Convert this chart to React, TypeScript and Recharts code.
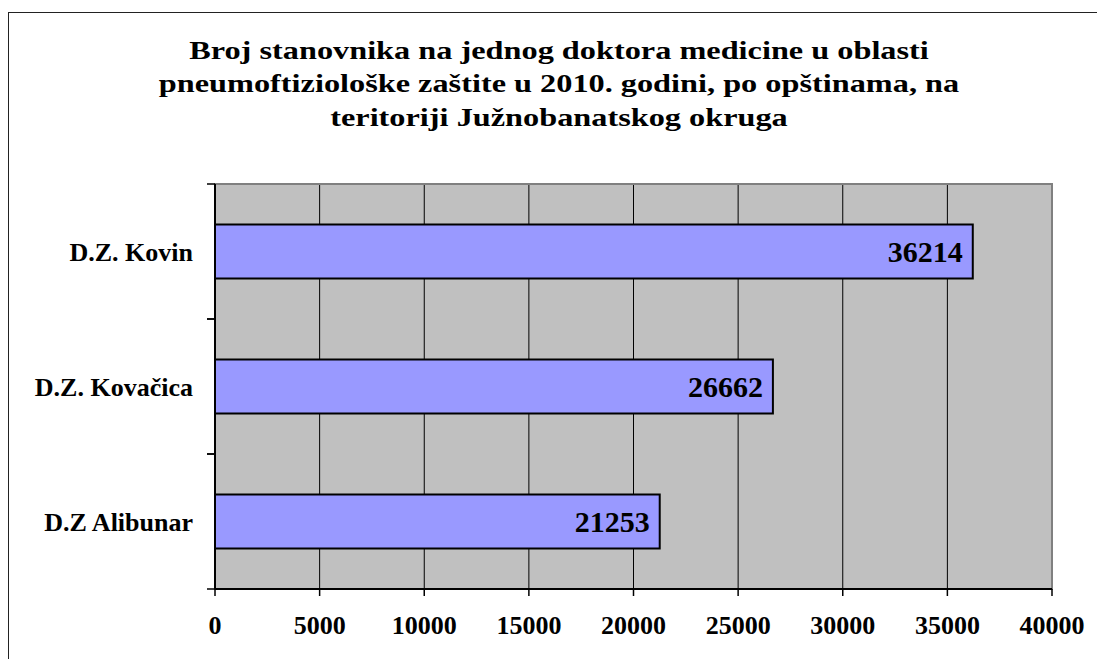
import React from 'react';
import { BarChart, Bar, XAxis, YAxis, CartesianGrid, LabelList, ReferenceArea } from 'recharts';

const categories = ['D.Z. Kovin', 'D.Z. Kovačica', 'D.Z Alibunar'];
const values = [36214, 26662, 21253];
const xTicks = [0, 5000, 10000, 15000, 20000, 25000, 30000, 35000, 40000];
const titleLines = [
  'Broj stanovnika na jednog doktora medicine u oblasti',
  'pneumoftiziološke zaštite u 2010. godini, po opštinama, na',
  'teritoriji Južnobanatskog okruga',
];

const data = categories.map((name, i) => ({ name, value: values[i] }));

const W = 1097;
const H = 659;
const MARGIN = { top: 184, right: 45, bottom: 0, left: 0 };
const X_AXIS_H = 70;
const FONT = '"Liberation Serif", "Times New Roman", serif';

// height of one category band, used for the boundary tick marks on the y axis
const bandH = (H - MARGIN.top - MARGIN.bottom - X_AXIS_H) / categories.length;

const CategoryTick = (props: any) => {
  const { x, y, payload } = props;
  return (
    <g>
      <text
        x={x}
        y={y}
        dy="0.35em"
        textAnchor="end"
        fontFamily={FONT}
        fontWeight="bold"
        fontSize={26}
        fill="#000"
      >
        {payload.value}
      </text>
      <line x1={x + 14} x2={x + 22} y1={y - bandH / 2} y2={y - bandH / 2} stroke="#000" strokeWidth={1.5} />
      <line x1={x + 14} x2={x + 22} y1={y + bandH / 2} y2={y + bandH / 2} stroke="#000" strokeWidth={1.5} />
    </g>
  );
};

const App: React.FC = () => {
  return (
    <div style={{ position: 'fixed', left: 0, top: 0, width: W, height: H, overflow: 'hidden', background: '#fff' }}>
      <div
        style={{
          position: 'absolute',
          left: 8,
          top: 12,
          width: 1100,
          height: 700,
          border: '1.5px solid #222',
          boxSizing: 'border-box',
        }}
      />
      <div
        style={{
          position: 'absolute',
          left: 59,
          top: 34,
          width: 1000,
          textAlign: 'center',
          fontFamily: FONT,
          fontWeight: 'bold',
          fontSize: 32.3,
          lineHeight: '41.4px',
          transform: 'scaleY(0.81)',
          transformOrigin: 'top',
          color: '#000',
          whiteSpace: 'nowrap',
        }}
      >
        {titleLines.map((t, i) => (
          <div key={i}>{t}</div>
        ))}
      </div>
      <div style={{ position: 'absolute', left: 0, top: 0 }}>
        <BarChart width={W} height={H} data={data} layout="vertical" margin={MARGIN} barCategoryGap="30%">
          <CartesianGrid horizontal={false} stroke="#000" strokeWidth={1} fill="#C0C0C0" fillOpacity={1} />
          <ReferenceArea x1={0} x2={40000} stroke="#808080" strokeWidth={2} fill="none" fillOpacity={0} />
          <XAxis
            type="number"
            domain={[0, 40000]}
            ticks={xTicks}
            interval={0}
            height={X_AXIS_H}
            tickSize={7}
            tickMargin={20}
            axisLine={{ stroke: '#000', strokeWidth: 2 }}
            tickLine={{ stroke: '#000', strokeWidth: 1.5 }}
            tick={{ fill: '#000', fontFamily: FONT, fontWeight: 'bold', fontSize: 26 }}
          />
          <YAxis
            type="category"
            dataKey="name"
            width={215}
            tickSize={7}
            tickMargin={15}
            tickLine={false}
            axisLine={{ stroke: '#000', strokeWidth: 2 }}
            tick={<CategoryTick />}
          />
          <Bar dataKey="value" fill="#9999FF" stroke="#000" strokeWidth={2} isAnimationActive={false}>
            <LabelList
              dataKey="value"
              position="insideRight"
              offset={10}
              fill="#000"
              style={{ fontFamily: FONT, fontWeight: 'bold', fontSize: 30 }}
            />
          </Bar>
        </BarChart>
      </div>
    </div>
  );
};

export default App;
